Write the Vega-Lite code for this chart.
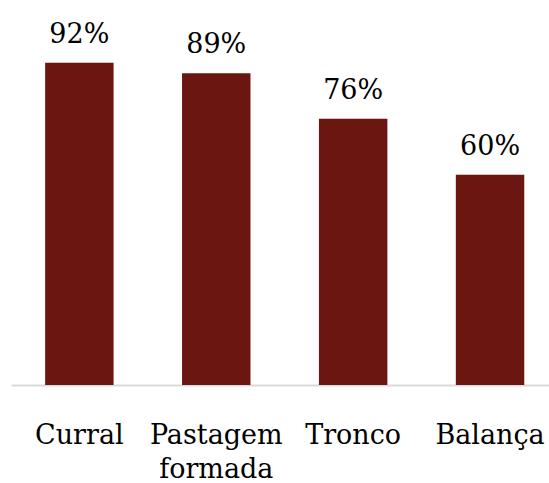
{
  "$schema": "https://vega.github.io/schema/vega-lite/v6.json",
  "width": 538,
  "height": 385,
  "autosize": {"type": "none"},
  "padding": {"left": 11, "top": 0, "right": 0, "bottom": 98},
  "background": "white",
  "config": {
    "view": {"stroke": null},
    "font": "DejaVu Serif"
  },
  "data": {
    "values": [
      {"item": "Curral", "share": 0.92},
      {"item": "Pastagem formada", "share": 0.89},
      {"item": "Tronco", "share": 0.76},
      {"item": "Balança", "share": 0.60}
    ]
  },
  "encoding": {
    "x": {
      "field": "item",
      "type": "nominal",
      "sort": null,
      "scale": {"paddingInner": 0.5, "paddingOuter": 0.215, "align": 0.58},
      "axis": {
        "title": null,
        "domainColor": "#d9d9d9",
        "domainWidth": 2,
        "ticks": false,
        "tickSize": 0,
        "labelAngle": 0,
        "labelFont": "DejaVu Serif",
        "labelFontSize": 27,
        "labelColor": "#000000",
        "labelBaseline": "alphabetic",
        "labelPadding": 58,
        "labelLineHeight": 34,
        "labelOverlap": false,
        "labelBound": false,
        "labelExpr": "datum.value == 'Pastagem formada' ? ['Pastagem', 'formada'] : datum.value"
      }
    },
    "y": {
      "field": "share",
      "type": "quantitative",
      "scale": {"domain": [0, 1.099], "nice": false},
      "axis": null
    }
  },
  "layer": [
    {"mark": {"type": "bar", "color": "#6B1610"}},
    {
      "mark": {
        "type": "text",
        "font": "DejaVu Serif",
        "fontSize": 27,
        "color": "#000000",
        "baseline": "alphabetic",
        "dy": -20
      },
      "encoding": {
        "text": {"field": "share", "type": "quantitative", "format": ".0%"}
      }
    }
  ]
}
